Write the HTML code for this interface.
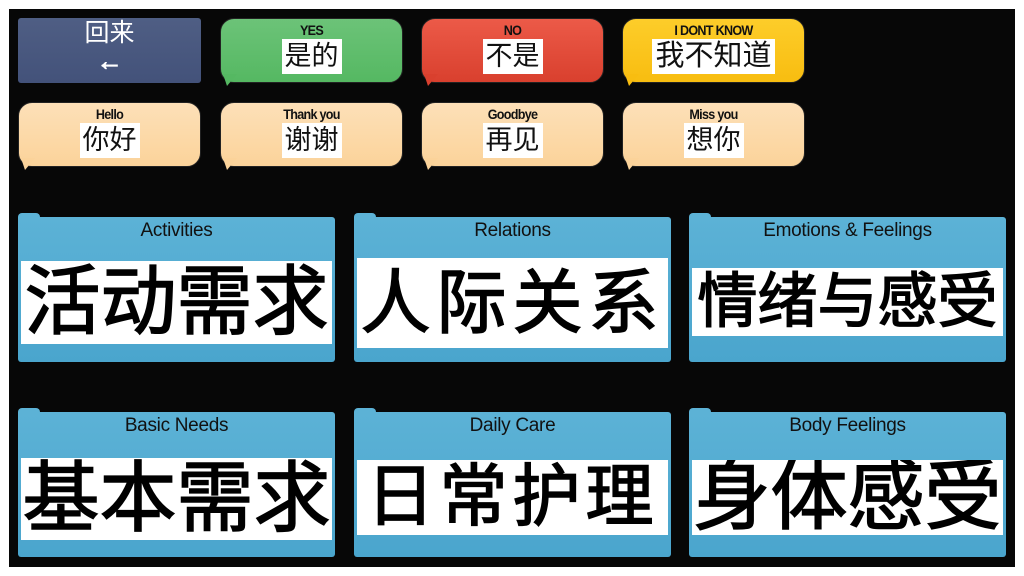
<!DOCTYPE html>
<html><head><meta charset="utf-8"><style>
*{margin:0;padding:0;box-sizing:border-box}
body{width:1024px;height:576px;background:#fff;position:relative;overflow:hidden;font-family:"Liberation Sans","Noto Sans CJK SC",sans-serif}
#bg{position:absolute;left:9px;top:9px;width:1006px;height:558px;background:#070707}
.b{position:absolute;width:183px;height:65px;border-radius:14px;border:1px solid #222;text-align:center}
.b .t{font-size:14px;font-weight:bold;letter-spacing:-0.8px;margin-top:3px;line-height:16px;color:#111;transform:scaleX(0.9)}
.b .w{display:inline-block;background:#fff;font-size:27px;line-height:35px;padding:0 3px;color:#111;margin-top:1px}
.tail{position:absolute;left:2px;bottom:-4px;width:0;height:0;border-left:4px solid transparent;border-right:10px solid transparent;border-top:12px solid}
.pe{background:linear-gradient(#fde0b8,#fbd39a)}
.f{position:absolute;width:317px;height:145px;background:linear-gradient(#5cb2d6,#4aa5cd);border-radius:3px;text-align:center}
.f:before{content:"";position:absolute;left:0;top:-4px;width:22px;height:8px;background:#5cb2d6;border-radius:4px 4px 0 0}
.f .t{font-size:19px;line-height:20px;margin-top:4px;color:#111;letter-spacing:-0.3px}
.f .w{position:absolute;left:3px;right:3px;background:#fff;color:#000;text-align:center;white-space:nowrap;-webkit-text-stroke:1.5px #000;overflow:hidden}
</style></head><body>
<div id="bg"></div>
<div class="b" style="left:18px;top:18px;background:linear-gradient(#4f5e84,#43527a);border-radius:3px;border:none;color:#fff">
<div style="font-size:25px;line-height:29px;margin-top:1px">回来</div>
<div style="font-size:26px;font-weight:bold;line-height:26px;-webkit-text-stroke:1px #fff">&#8592;</div></div>
<div class="b" style="left:220px;top:18px;background:linear-gradient(#6cc378,#55b862)"><div class="t">YES</div><span class="w">是的</span><div class="tail" style="border-top-color:#55b862"></div></div>
<div class="b" style="left:421px;top:18px;background:linear-gradient(#ec5a48,#d9402e)"><div class="t">NO</div><span class="w">不是</span><div class="tail" style="border-top-color:#d9402e"></div></div>
<div class="b" style="left:622px;top:18px;background:linear-gradient(#fdcd2a,#f8bd10)"><div class="t">I DONT KNOW</div><span class="w" style="font-size:29px">我不知道</span><div class="tail" style="border-top-color:#f8bd10"></div></div>
<div class="b pe" style="left:18px;top:102px"><div class="t">Hello</div><span class="w">你好</span><div class="tail" style="border-top-color:#fbd39a"></div></div>
<div class="b pe" style="left:220px;top:102px"><div class="t">Thank you</div><span class="w">谢谢</span><div class="tail" style="border-top-color:#fbd39a"></div></div>
<div class="b pe" style="left:421px;top:102px"><div class="t">Goodbye</div><span class="w">再见</span><div class="tail" style="border-top-color:#fbd39a"></div></div>
<div class="b pe" style="left:622px;top:102px"><div class="t">Miss you</div><span class="w">想你</span><div class="tail" style="border-top-color:#fbd39a"></div></div>

<div class="f" style="left:18px;top:217px"><div class="t">Activities</div><div class="w" style="top:44px;height:83px;font-size:76px;line-height:83px">活动需求</div></div>
<div class="f" style="left:354px;top:217px"><div class="t">Relations</div><div class="w" style="top:41px;height:90px;font-size:70px;line-height:90px;letter-spacing:6px">人际关系</div></div>
<div class="f" style="left:689px;top:217px"><div class="t">Emotions &amp; Feelings</div><div class="w" style="top:51px;height:68px;font-size:60px;line-height:68px">情绪与感受</div></div>
<div class="f" style="left:18px;top:412px"><div class="t">Basic Needs</div><div class="w" style="top:46px;height:82px;font-size:77px;line-height:82px">基本需求</div></div>
<div class="f" style="left:354px;top:412px"><div class="t">Daily Care</div><div class="w" style="top:48px;height:75px;font-size:68px;line-height:75px;letter-spacing:5px">日常护理</div></div>
<div class="f" style="left:689px;top:412px"><div class="t">Body Feelings</div><div class="w" style="top:48px;height:75px;font-size:77px;line-height:75px">身体感受</div></div>
</body></html>
